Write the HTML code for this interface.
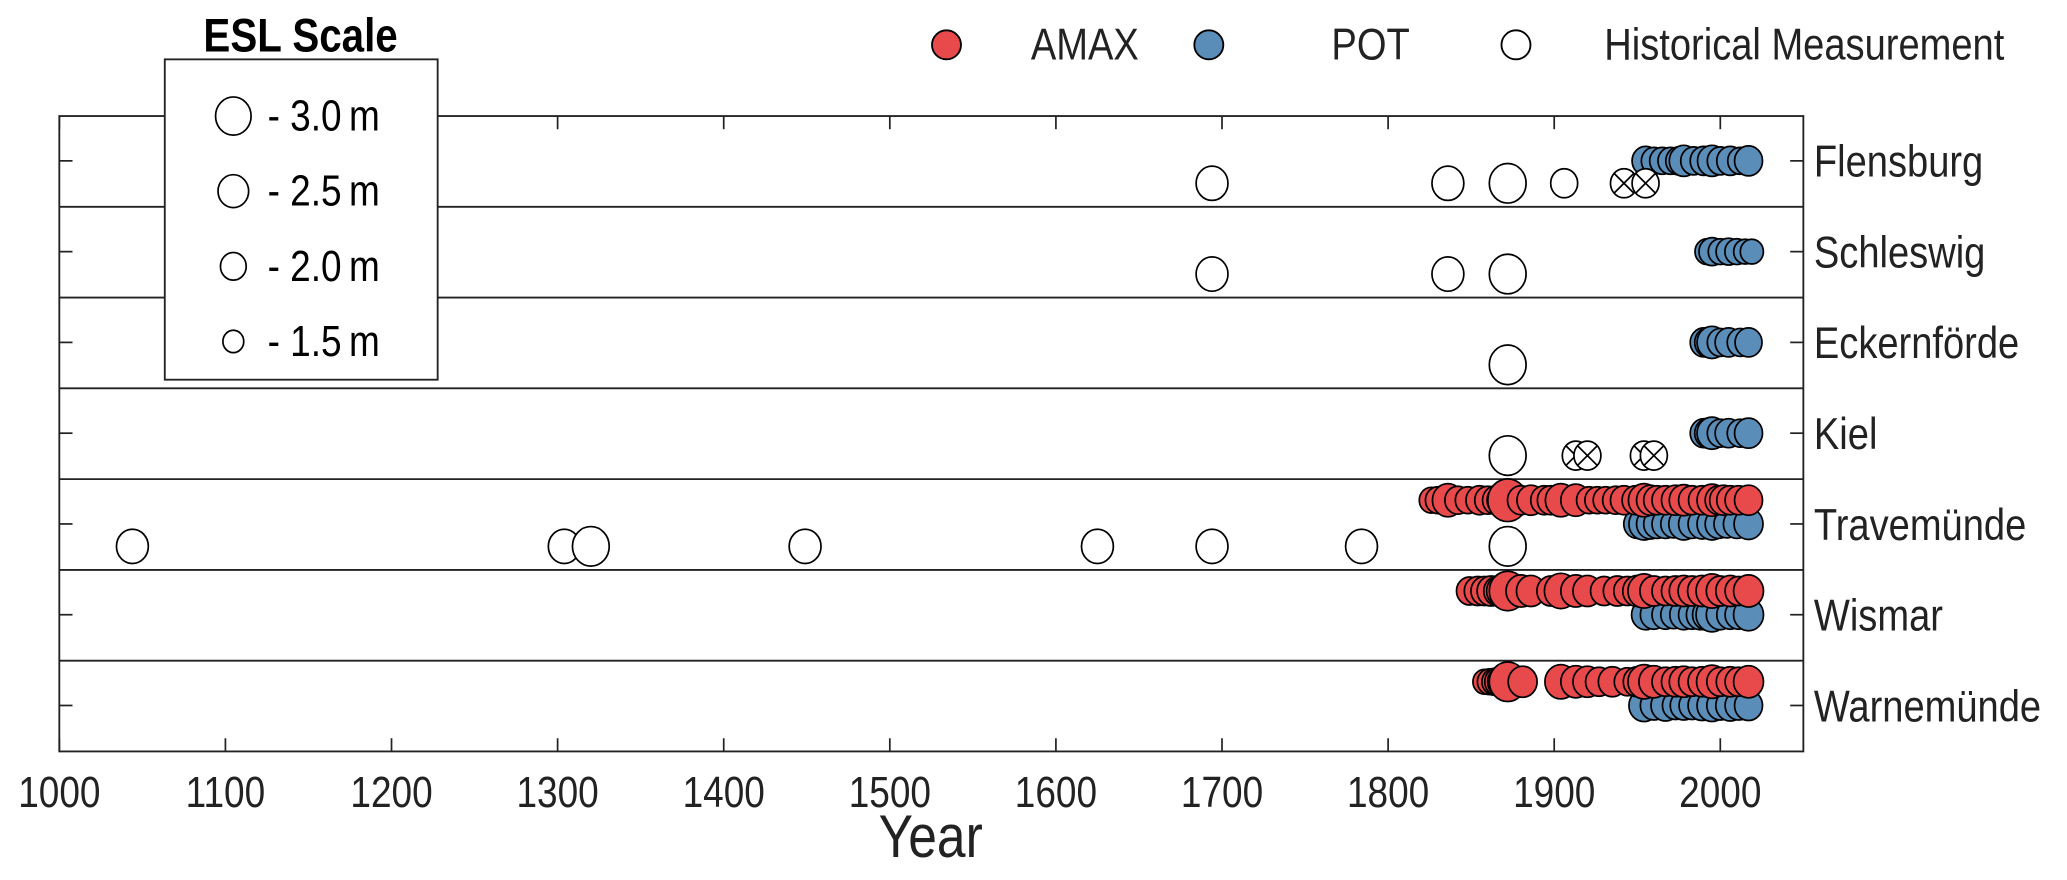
<!DOCTYPE html>
<html><head><meta charset="utf-8"><style>
html,body{margin:0;padding:0;background:#fff;}
svg{display:block;font-family:"Liberation Sans",sans-serif;}
</style></head><body>
<svg id="chart" width="2067" height="880" viewBox="0 0 1568 667.5" xmlns="http://www.w3.org/2000/svg">
<g id="grid"></g>
<g id="marks"></g>
<g id="axes"></g>
<g>
<rect x="125" y="45" width="207" height="243" fill="#fff" stroke="#222" stroke-width="1.4"/>
<text transform="translate(228,39) scale(0.85,1)" text-anchor="middle" font-weight="bold" font-size="36" fill="#000">ESL Scale</text>
<g id="esl"></g>
</g>
<g>
<circle cx="718" cy="34" r="11" fill="#e84a4b" stroke="#000" stroke-width="1.4"/>
<text transform="translate(782,45) scale(0.85,1)" font-size="34" fill="#222">AMAX</text>
<circle cx="917" cy="34" r="11" fill="#5a8db8" stroke="#000" stroke-width="1.4"/>
<text transform="translate(1010,45) scale(0.85,1)" font-size="34" fill="#222">POT</text>
<circle cx="1150" cy="34" r="11" fill="#fff" stroke="#000" stroke-width="1.4"/>
<text transform="translate(1217,45) scale(0.85,1)" font-size="34" fill="#222">Historical Measurement</text>
</g>
</svg>
<script>
const stations = ["Flensburg","Schleswig","Eckernförde","Kiel","Travemünde","Wismar","Warnemünde"];
const xTicks = [1000,1100,1200,1300,1400,1500,1600,1700,1800,1900,2000];
const eslScale = [3.0,2.5,2.0,1.5];
// historical: station index, year, esl, crossed
const histStation = [0,0,0,0,0,0, 1,1,1, 2, 3,3,3,3,3, 4,4,4,4,4,4,4,4];
const histYear    = [1694,1836,1872,1906,1942,1955, 1694,1836,1872, 1872, 1872,1913,1920,1954,1960, 1044,1304,1320,1449,1625,1694,1784,1872];
const histEsl     = [2.5,2.5,3.0,2.0,2.0,2.0, 2.5,2.5,3.0, 3.0, 3.0,2.0,2.0,2.0,2.0, 2.5,2.5,3.0,2.5,2.5,2.5,2.5,3.0];
const histCross   = [0,0,0,0,1,1, 0,0,0, 0, 0,1,1,1,1, 0,0,0,0,0,0,0,0];
// AMAX
const travAmaxYear = [1826,1830,1835,1836,1842,1848,1855,1860,1865,1868,1872,1880,1886,1894,1898,1904,1913,1921,1926,1931,1937,1942,1949,1954,1958,1962,1967,1973,1978,1983,1989,1995,1999,2002,2006,2011,2017];
const travAmaxEsl  = [1.7,1.8,1.9,2.4,1.9,1.8,2.0,1.9,2.0,2.1,3.3,2.0,2.1,2.0,2.0,2.4,2.3,1.8,1.8,1.8,1.9,2.0,2.0,2.4,2.1,2.0,2.0,2.1,2.2,2.0,2.0,2.3,2.0,2.1,2.0,2.0,2.1];
const wisAmaxYear  = [1849,1854,1858,1862,1866,1868,1872,1880,1886,1898,1904,1913,1920,1930,1938,1944,1950,1954,1960,1967,1973,1978,1983,1989,1995,2000,2006,2011,2017];
const wisAmaxEsl   = [1.9,2.0,2.0,2.1,2.1,2.2,3.0,2.3,2.2,2.1,2.6,2.3,2.2,2.0,2.1,2.0,2.2,2.5,2.1,2.0,2.1,2.2,2.1,2.2,2.5,2.1,2.2,2.0,2.3];
const warAmaxYear  = [1858,1861,1864,1866,1868,1872,1881,1904,1913,1920,1927,1935,1944,1950,1954,1960,1967,1973,1978,1983,1989,1995,2000,2006,2011,2017];
const warAmaxEsl   = [1.6,1.7,1.8,1.9,2.0,3.0,2.2,2.5,2.3,2.2,2.0,2.1,1.9,2.1,2.5,2.3,2.0,2.1,2.2,2.0,2.1,2.4,2.0,2.1,2.0,2.3];
// POT
const flePotYear = [1955,1960,1965,1970,1975,1978,1984,1990,1995,2000,2006,2012,2017];
const flePotEsl  = [2.0,1.8,1.8,1.8,1.9,2.2,1.9,2.0,2.2,1.9,2.0,1.8,2.1];
const schPotYear = [1992,1995,2000,2005,2010,2015,2019];
const schPotEsl  = [1.7,1.9,1.7,1.8,1.7,1.6,1.6];
const eckPotYear = [1990,1993,1995,2000,2005,2012,2017];
const eckPotEsl  = [2.0,2.1,2.3,1.9,2.0,1.9,2.0];
const kiePotYear = [1990,1993,1995,2000,2005,2012,2017];
const kiePotEsl  = [2.0,2.1,2.3,1.9,2.0,1.9,2.1];
const travPotYear = [1950,1954,1958,1962,1967,1972,1978,1983,1989,1995,1999,2004,2010,2017];
const travPotEsl  = [2.0,2.3,2.1,2.0,2.0,1.9,2.3,2.0,2.1,2.3,2.0,1.9,2.0,2.2];
const wisPotYear = [1955,1960,1967,1972,1978,1983,1988,1992,1995,2000,2006,2011,2017];
const wisPotEsl  = [2.1,2.0,2.0,1.9,2.1,2.0,2.1,2.2,2.5,2.1,2.0,2.0,2.3];
const warPotYear = [1954,1960,1967,1973,1978,1983,1989,1995,2000,2006,2011,2017];
const warPotEsl  = [2.3,2.0,2.2,1.9,2.0,1.9,2.1,2.3,2.0,2.2,2.0,2.1];

const NS="http://www.w3.org/2000/svg";
const L=45,R=1368,T=88,B=570;
const rowH=(B-T)/stations.length;
function xs(y){return L+(y-1000)*1.26;}
function tickY(i){return T+i*rowH+34;}
function rad(e){return 3+4*e;}
function mk(tag,attrs,parent){const e=document.createElementNS(NS,tag);for(const k in attrs)e.setAttribute(k,attrs[k]);parent.appendChild(e);return e;}
const grid=document.getElementById('grid'),marks=document.getElementById('marks'),axes=document.getElementById('axes');
for(let i=1;i<stations.length;i++){
  const ln=mk('line',{x1:L,x2:R,y1:T+i*rowH,y2:T+i*rowH,stroke:'#222','stroke-width':1.4},grid);
  
  
}
const fr=mk('rect',{x:L,y:T,width:R-L,height:B-T,fill:'none',stroke:'#222','stroke-width':1.4},axes);


xTicks.forEach(t=>{
  const x=xs(t);
  mk('line',{x1:x,x2:x,y1:B,y2:B-10,stroke:'#222','stroke-width':1.3},axes);
  mk('line',{x1:x,x2:x,y1:T,y2:T+10,stroke:'#222','stroke-width':1.3},axes);
  const tx=mk('text',{transform:'translate('+x+','+(B+42)+') scale(0.85,1)','text-anchor':'middle','font-size':33,fill:'#222'},axes);
  tx.textContent=t;
  
  
});
const xt=mk('text',{transform:'translate(706,650) scale(0.85,1)','text-anchor':'middle','font-size':46,fill:'#222'},axes);
xt.textContent='Year';


stations.forEach((s,i)=>{
  const y=tickY(i);
  mk('line',{x1:L,x2:L+10,y1:y,y2:y,stroke:'#222','stroke-width':1.3},axes);
  mk('line',{x1:R,x2:R-10,y1:y,y2:y,stroke:'#222','stroke-width':1.3},axes);
  const tx=mk('text',{transform:'translate('+(R+8)+','+(y+12)+') scale(0.85,1)','font-size':34,fill:'#222'},axes);
  tx.textContent=s;
  
  
});
function dot(x,y,e,fill,name){
  const c=mk('ellipse',{cx:x,cy:y,rx:rad(e)*0.93,ry:rad(e),fill:fill,stroke:'#000','stroke-width':1.3},marks);
  
  
  return c;
}
function series(si,years,esl,fill,off,name){years.forEach((y,k)=>dot(xs(y),tickY(si)+off,esl[k],fill,name));}
series(0,flePotYear,flePotEsl,'#5a8db8',0,'pot-point');
series(1,schPotYear,schPotEsl,'#5a8db8',0,'pot-point');
series(2,eckPotYear,eckPotEsl,'#5a8db8',0,'pot-point');
series(3,kiePotYear,kiePotEsl,'#5a8db8',0,'pot-point');
series(4,travPotYear,travPotEsl,'#5a8db8',0,'pot-point');
series(5,wisPotYear,wisPotEsl,'#5a8db8',0,'pot-point');
series(6,warPotYear,warPotEsl,'#5a8db8',0,'pot-point');
histYear.forEach((y,k)=>{
  const cx=xs(y),cy=tickY(histStation[k])+17,r=rad(histEsl[k]);
  dot(cx,cy,histEsl[k],'#fff','historical-point');
  if(histCross[k]){const d=r*0.68;
    mk('line',{x1:cx-d,y1:cy-d,x2:cx+d,y2:cy+d,stroke:'#000','stroke-width':1.3},marks);
    mk('line',{x1:cx-d,y1:cy+d,x2:cx+d,y2:cy-d,stroke:'#000','stroke-width':1.3},marks);}
});
series(4,travAmaxYear,travAmaxEsl,'#e84a4b',-18,'amax-point');
series(5,wisAmaxYear,wisAmaxEsl,'#e84a4b',-18,'amax-point');
series(6,warAmaxYear,warAmaxEsl,'#e84a4b',-18,'amax-point');
const esl=document.getElementById('esl');
eslScale.forEach((e,i)=>{
  const y=88+i*57;
  const c=mk('ellipse',{cx:177,cy:y,rx:(rad(e)-0.5)*0.93,ry:rad(e)-0.5,fill:'#fff',stroke:'#000','stroke-width':1.3},esl);
  
  
  const t=mk('text',{transform:'translate(203,'+(y+11)+') scale(0.85,1)','font-size':33,fill:'#000'},esl);
  t.textContent='- '+e.toFixed(1)+'\u2009m';
  
  
});
</script>
</body></html>
